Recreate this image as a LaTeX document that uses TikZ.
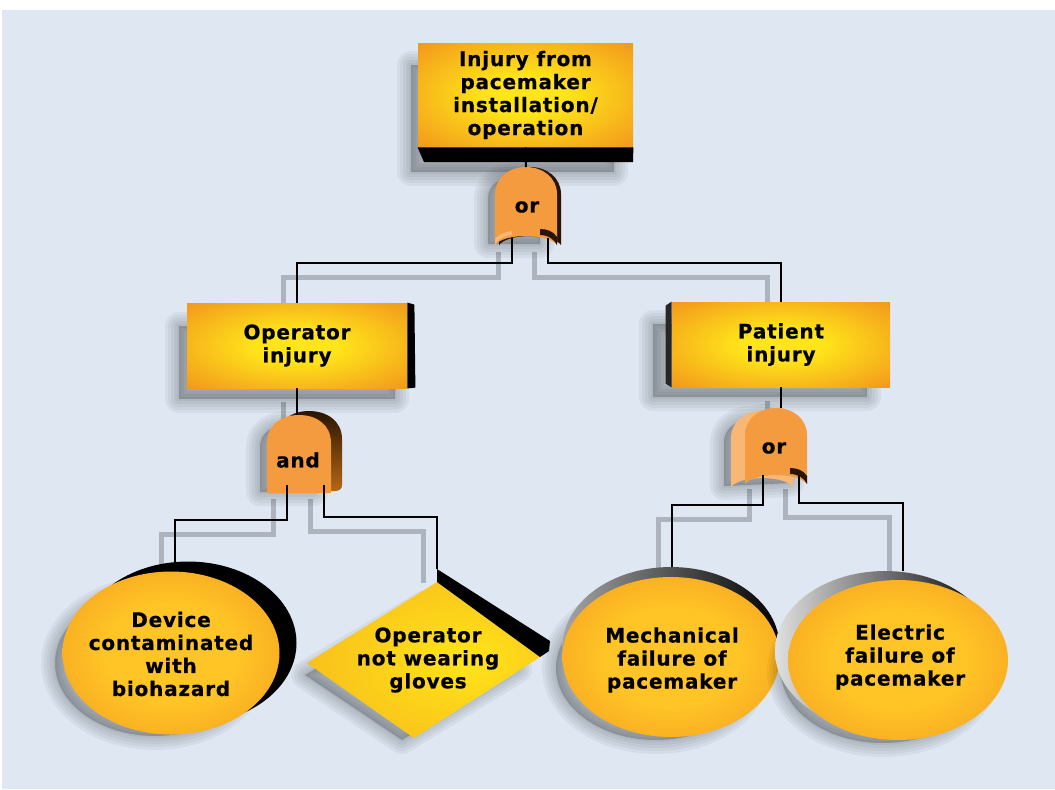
\documentclass[tikz,border=0pt]{standalone}
\usepackage{fontspec}
\newfontfamily\lblfont[LetterSpace=4,FakeBold=0.6]{DejaVu Sans}
\usetikzlibrary{shapes.geometric,calc}
\definecolor{bgblue}{HTML}{DEE7F2}
\definecolor{org}{HTML}{F08A1C}
\definecolor{yel}{HTML}{FFE51A}
\definecolor{yelo}{HTML}{FFC526}
\definecolor{gatec}{HTML}{F39B3E}
\definecolor{gatelt}{HTML}{F8B774}
\definecolor{gatedk}{HTML}{2A1404}
\colorlet{lineshad}{black!22!bgblue}
\pgfdeclareradialshading{boxglow}{\pgfpoint{0bp}{0bp}}{color(0bp)=(yel); color(9bp)=(yel); color(26bp)=(org!55!yel); color(40bp)=(org); color(50bp)=(org)}
\pgfdeclareradialshading{ellglow}{\pgfpoint{0bp}{0bp}}{color(0bp)=(yelo); color(15bp)=(yelo); color(36bp)=(org!70!yelo); color(50bp)=(org)}
\pgfdeclareradialshading{diaglow}{\pgfpoint{10bp}{0bp}}{color(0bp)=(yel); color(15bp)=(yel!80!org); color(45bp)=(org!60!yel); color(60bp)=(org)}
\pgfdeclarelayer{back}
\pgfdeclarelayer{shad}
\pgfsetlayers{back,shad,main}
\tikzset{
  lbl/.style={font=\lblfont\bfseries\fontsize{10}{11.5}\selectfont, align=center, text=black, inner sep=0pt},
  facebox/.style={lbl, rectangle, shading=boxglow},
  conn/.style={draw=black, line width=1pt},
  connshad/.style={draw=lineshad, line width=2.5pt},
  shadlayer/.style={fill=black, draw=black, opacity=0.045, line join=round}
}
% soft shadow: #1 xshift, #2 yshift, #3 path
\newcommand\softshadow[3]{%
  \begin{scope}[transform canvas={xshift=#1,yshift=#2}]
    \foreach \w in {14,11,8,5,2}{\path[shadlayer, line width=\w pt] #3;}
  \end{scope}}
\begin{document}
\begin{tikzpicture}[x=0.5pt,y=-0.5pt]
\useasboundingbox (0,0) rectangle (1055,789);
\begin{pgfonlayer}{back}
\fill[white] (0,0) rectangle (1055,789);
\fill[bgblue] (2,10) rectangle (1055,789);
\end{pgfonlayer}

% ---------- root box
\softshadow{-6.5pt}{-8pt}{(424,49) rectangle (627,156)}
\node[facebox, minimum width=107.5pt, minimum height=52pt] (root) at (525.5,95) {Injury from\\pacemaker\\installation/\\operation};
\fill[black] (root.south west) -- (root.south east) -- (633,162) -- (424,162) -- cycle;

% ---------- operator box
\softshadow{-7pt}{-8.5pt}{(193,309) rectangle (409,382)}
\node[facebox, minimum width=110pt, minimum height=42.5pt] (op) at (297,345.5) {Operator\\injury};
\fill[black] (op.north east) -- ++(7,2) -- ++(1,83) -- (op.south east) -- cycle;

% ---------- patient box
\softshadow{-8.5pt}{-8pt}{(670,308) rectangle (884,381)}
\node[facebox, minimum width=109pt, minimum height=42.5pt] (pt) at (781,344.5) {Patient\\injury};
\fill[black!85] (pt.north west) -- ++(-6,4) -- ++(0,78) -- (pt.south west) -- cycle;

% ---------- gate 1 (or)
\begin{scope}[shift={(495,167)}]
  \softshadow{-6pt}{-2pt}{(5,73) -- (5,27) .. controls (5,14) and (17,6) .. (31,6) .. controls (45,6) and (57,14) .. (57,27) -- (57,73) -- cycle}
  \fill[gatedk] (4,78) -- (4,27) .. controls (4,11) and (18,0) .. (35,0) .. controls (52,0) and (66,11) .. (66,27) -- (66,78) .. controls (57,66) and (13,66) .. cycle;
  \fill[gatec] (0,78) -- (0,27) .. controls (0,11) and (14,0) .. (31,0) .. controls (48,0) and (62,11) .. (62,27) -- (62,78) .. controls (53,66) and (9,66) .. cycle;
  \fill[gatelt] (0,78) .. controls (3,72) and (9,69) .. (17,68) -- (17,64) .. controls (8,65) and (2,69) .. (0,72) -- cycle;
  \fill[gatedk] (45,68) .. controls (53,68) and (59,72) .. (62,78) -- (62,70) .. controls (58,64) and (52,62) .. (45,62) -- cycle;
\end{scope}
\node[lbl] (g1) at (527,207) {or};
\coordinate (g1top) at (526,167);
\coordinate (g1a) at (512,238);
\coordinate (g1b) at (548,238);

% ---------- gate 2 (and)
\begin{scope}[shift={(267,415)}]
  \softshadow{-6pt}{-2pt}{(5,73) -- (5,28) .. controls (5,14) and (17,6) .. (32,6) .. controls (47,6) and (59,14) .. (59,28) -- (59,73) -- cycle}
  \shade[top color=gatedk, bottom color=org!75!black] (10,76) -- (10,24) .. controls (10,6) and (24,-4) .. (42,-4) .. controls (60,-4) and (75,6) .. (75,24) -- (75,70) .. controls (75,74) and (72,76) .. (68,76) -- cycle;
  \fill[gatec] (0,78) -- (0,28) .. controls (0,10) and (14,0) .. (32,0) .. controls (50,0) and (64,10) .. (64,28) -- (64,78) -- cycle;
\end{scope}
\node[lbl] (g2) at (298,460) {and};
\coordinate (g2top) at (297,415);
\coordinate (g2a) at (287,485);
\coordinate (g2b) at (324,485);

% ---------- gate 3 (or)
\begin{scope}[shift={(745,408)}]
  \softshadow{-6pt}{-2pt}{(-9,74) -- (-9,30) .. controls (-9,17) and (3,8) .. (17,8) -- (31,6) .. controls (45,6) and (57,14) .. (57,27) -- (57,71) -- cycle}
  \fill[gatelt] (-14,79) -- (-14,30) .. controls (-14,14) and (0,3) .. (17,3) .. controls (34,3) and (48,14) .. (48,30) -- (48,79) .. controls (39,67) and (-5,67) .. cycle;
  \fill[gatec] (0,76) -- (0,27) .. controls (0,11) and (14,0) .. (31,0) .. controls (48,0) and (62,11) .. (62,27) -- (62,76) .. controls (53,64) and (9,64) .. cycle;
  \fill[gatedk] (45,66) .. controls (53,66) and (59,70) .. (62,76) -- (62,68) .. controls (58,62) and (52,60) .. (45,60) -- cycle;
\end{scope}
\node[lbl] (g3) at (774,448) {or};
\coordinate (g3top) at (778,408);
\coordinate (g3a) at (763,475);
\coordinate (g3b) at (799,475);

% ---------- device ellipse
\fill[black] (188,643) ellipse [x radius=54.25pt, y radius=40.75pt];
\softshadow{-8pt}{-5pt}{(171,653) ellipse [x radius=50pt, y radius=36.5pt]}
\shade[shading=ellglow] (171,653) ellipse [x radius=54.25pt, y radius=40.75pt];
\node[lbl] (dev) at (171,654) {Device\\contaminated\\with\\biohazard};
\coordinate (devtop) at (175,562);

% ---------- gloves diamond
\softshadow{-6pt}{-6pt}{(437,592) -- (530,657) -- (414,728) -- (317,663) -- cycle}
\shade[shading=diaglow] (437,582) -- (540,657) -- (414,738) -- (307,663) -- cycle;
\fill[black] (437,569) -- (550,641) -- (549,651) -- (540,657) -- (437,582) -- cycle;
\node[lbl] (glv) at (428,660) {Operator\\not wearing\\gloves};
\coordinate (glvtop) at (437,569);

% ---------- mechanical ellipse
\softshadow{-7.5pt}{-5.5pt}{(671,657) ellipse [x radius=50pt, y radius=36pt]}
\shade[left color=black!35, right color=black] (671,647) ellipse [x radius=54.25pt, y radius=40pt];
\shade[shading=ellglow] (671,657) ellipse [x radius=54.25pt, y radius=40pt];
\node[lbl] (mech) at (672,660) {Mechanical\\failure of\\pacemaker};
\coordinate (mechtop) at (672,567);

% ---------- electric ellipse
\softshadow{-7.5pt}{-5.5pt}{(898,660) ellipse [x radius=51pt, y radius=36pt]}
\shade[left color=black!12, right color=black] (885,651) ellipse [x radius=55pt, y radius=40pt];
\shade[shading=ellglow] (898,660) ellipse [x radius=55pt, y radius=40pt];
\node[lbl] (elec) at (900,657) {Electric\\failure of\\pacemaker};
\coordinate (electop) at (903,571);

% ---------- connectors
\draw[conn] (root.south) -- (g1top);
\draw[conn] (g1a) -- ++(0,25) -| (op.north);
\draw[conn] (g1b) -- ++(0,25) -| (pt.north);
\draw[conn] (op.south) -- (op.south |- g2top);
\draw[conn] (pt.south) -- (pt.south |- g3top);
\draw[conn] (g2a) -- ++(0,35) -| (devtop);
\draw[conn] (g2b) -- ++(0,32) -| (glvtop);
\draw[conn] (g3a) -- ++(0,30) -| (mechtop);
\draw[conn] (g3b) -- ++(0,28) -| (electop);

\begin{pgfonlayer}{shad}
\begin{scope}[transform canvas={xshift=-7pt,yshift=-7pt}]
\draw[connshad] (g1a) -- ++(0,25) -| (op.north);
\draw[connshad] (g1b) -- ++(0,25) -| (pt.north);
\draw[connshad] (op.south) -- (op.south |- g2top);
\draw[connshad] (pt.south) -- (pt.south |- g3top);
\draw[connshad] (g2a) -- ++(0,35) -| (devtop);
\draw[connshad] (g2b) -- ++(0,32) -| (glvtop);
\draw[connshad] (g3a) -- ++(0,30) -| (mechtop);
\draw[connshad] (g3b) -- ++(0,28) -| (electop);
\end{scope}
\end{pgfonlayer}
\end{tikzpicture}
\end{document}
